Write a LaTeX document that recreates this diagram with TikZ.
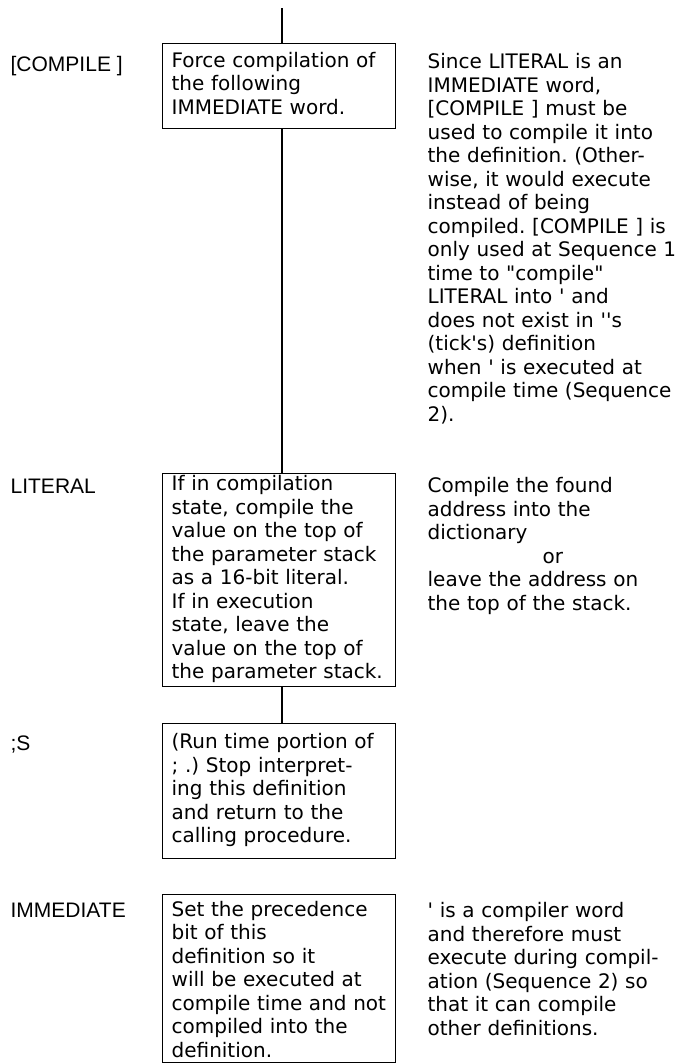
\documentclass[tikz,border=0pt]{standalone}
\usepackage{fontspec}
\setmainfont{DejaVu Sans}[Ligatures=TeXOff]
\newfontfamily\labelfont{Liberation Sans}[Ligatures=TeXOff]
\usepackage{tikz}
\usetikzlibrary{calc, positioning}
\frenchspacing

\begin{document}
\begin{tikzpicture}[x=1pt, y=-1pt, line width=1.3pt,
		wordbox/.style={draw, anchor=north west, text width=215pt, inner xsep=9pt, inner ysep=0pt, align=left, font=\fontsize{20}{23.5}\selectfont},
		note/.style={anchor=north west, text width=250pt, inner sep=0pt, align=left, font=\fontsize{20}{23.5}\selectfont},
		word/.style={anchor=base west, inner sep=0pt, font=\labelfont\fontsize{21}{25}\selectfont}]
		\useasboundingbox (0,0) rectangle (679,1063);

		\node[word] (Lc) at (10,71) {[COMPILE ]};
		\node[word] (Ll) at (10,493) {LITERAL};
		\node[word] (Ls) at (10,750) {;S};
		\node[word] (Li) at (10,917) {IMMEDIATE};

		\node[wordbox, minimum height=85pt] (Cc) at (162,43) {\strut Force compilation of\\the following\\IMMEDIATE word.\strut};
		\node[wordbox, minimum height=213pt] (Cl) at (162,473) {\strut If in compilation\\state, compile the\\value on the top of\\the parameter stack\\as a 16-bit literal.\\If in execution\\state, leave the\\value on the top of\\the parameter stack.\strut};
		\node[wordbox, minimum height=135pt] (Cs) at (162,723) {\strut (Run time portion of\\; .) Stop interpret-\\ing this definition\\and return to the\\calling procedure.\strut};
		\node[wordbox, minimum height=168pt] (Ci) at (162,894) {\strut Set the precedence\\bit of this\\definition so it\\will be executed at\\compile time and not\\compiled into the\\definition.};

		\node[note] (Nc) at (427,51.5) {\strut Since LITERAL is an\\IMMEDIATE word,\\{[}COMPILE ] must be\\used to compile it into\\the definition. (Other-\\wise, it would execute\\instead of being\\compiled. [COMPILE ] is\\only used at Sequence 1\\time to "compile"\\LITERAL into ' and\\does not exist in ''s\\(tick's) definition\\when ' is executed at\\compile time (Sequence\\2).};
		\node[note] (Nl) at (427,475.5) {\strut Compile the found\\address into the\\dictionary\\\hspace*{115pt}or\\leave the address on\\the top of the stack.};
		\node[note] (Ni) at (427,900.5) {\strut ' is a compiler word\\and therefore must\\execute during compil-\\ation (Sequence 2) so\\that it can compile\\other definitions.};

		\coordinate (top) at (282,8);
		\draw (top) -- (top |- Cc.north);
		\draw (Cc.south -| top) -- (top |- Cl.north);
		\draw (Cl.south -| top) -- (top |- Cs.north);

	\end{tikzpicture}
\end{document}
